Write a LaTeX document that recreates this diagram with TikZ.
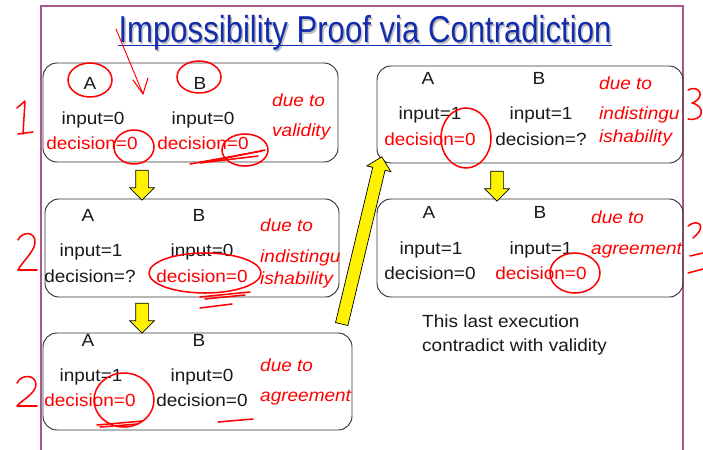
\documentclass[tikz,border=0pt]{standalone}
\usepackage{fontspec}
\setmainfont{Liberation Sans}[FakeStretch=1.08]
\newfontfamily\titlefont{Liberation Sans}[FakeStretch=0.83]
\usetikzlibrary{shapes.arrows,calc}
\definecolor{slideframe}{RGB}{168,88,138}
\definecolor{titleblue}{RGB}{18,44,172}
\definecolor{boxline}{RGB}{50,50,50}
\def\pxu{0.03cm}
\begin{document}
\begin{tikzpicture}[x=0.03cm, y=-0.03cm,
    txt/.style={inner sep=0pt, text height=0.716em, text depth=0pt, font=\fontsize{15}{18}\selectfont, text=black!90},
    note/.style={txt, text=red, font=\fontsize{15}{18}\selectfont\itshape, anchor=west},
    execbox/.style={draw=boxline, line width=0.8pt, rounded corners=0.42cm, inner sep=0pt, outer sep=0pt},
    yarrow/.style={single arrow, draw=black, fill=yellow, line width=0.6pt, inner sep=0pt, outer sep=0pt,
      text height=6*\pxu, text depth=6*\pxu, text width=0pt,
      minimum width=24*\pxu, single arrow head extend=6*\pxu, single arrow head indent=0pt},
    hand/.style={red, line width=1.3pt, line cap=round, line join=round},
    frame/.style={slideframe, line width=1.4pt}]

  \useasboundingbox (0,0) rectangle (703,450);

  % Slide frame
  \draw[frame] (41,452) -- (41,6) -- (683,6) -- (683,452);

  % Title
  \node[inner sep=0pt, text height=0.716em, text depth=0pt, text=black!25,
    font=\titlefont\fontsize{32}{36}\selectfont] (shadow) at (366.5,40) {Impossibility Proof via Contradiction};
  \node[inner sep=0pt, text height=0.716em, text depth=0pt, text=titleblue,
    font=\titlefont\fontsize{32}{36}\selectfont] (title) at (365,38.5) {Impossibility Proof via Contradiction};
  \draw[titleblue, line width=1.2pt] ([yshift=-3*\pxu]title.base west) -- ([yshift=-3*\pxu]title.base east);

  % Execution 1
  \node[execbox, minimum width=295*\pxu, minimum height=99*\pxu] (exec1) at (190.5,112.5) {};
  \node[txt] (e1a) at (90,85) {A};
  \node[txt] (e1b) at (200,85) {B};
  \node[txt] (e1ia) at (93,120) {input=0};
  \node[txt] (e1ib) at (203,120) {input=0};
  \node[txt, text=red] (e1da) at (92,145) {decision=0};
  \node[txt, text=red] (e1db) at (203,145) {decision=0};
  \node[note] (e1n1) at (272,102) {due to};
  \node[note] (e1n2) at (272,132) {validity};

  % Execution 2 (top right)
  \node[execbox, minimum width=306*\pxu, minimum height=97*\pxu] (exec2) at (530,114.5) {};
  \node[txt] (e2a) at (428,80) {A};
  \node[txt] (e2b) at (539,80) {B};
  \node[txt] (e2ia) at (430,115) {input=1};
  \node[txt] (e2ib) at (541,115) {input=1};
  \node[txt, text=red] (e2da) at (430,141) {decision=0};
  \node[txt] (e2db) at (541,141) {decision=?};
  \node[note] (e2n1) at (599,85) {due to};
  \node[note] (e2n2) at (599,115) {indistingu};
  \node[note] (e2n3) at (599,138) {ishability};

  % Execution 3 (middle left)
  \node[execbox, minimum width=294*\pxu, minimum height=98*\pxu] (exec3) at (192,248) {};
  \node[txt] (e3a) at (88,217) {A};
  \node[txt] (e3b) at (199,217) {B};
  \node[txt] (e3ia) at (91,252) {input=1};
  \node[txt] (e3ib) at (202,252) {input=0};
  \node[txt] (e3da) at (90,278) {decision=?};
  \node[txt, text=red] (e3db) at (202,278) {decision=0};
  \node[note] (e3n1) at (260,227) {due to};
  \node[note] (e3n2) at (260,258) {indistingu};
  \node[note] (e3n3) at (260,280) {ishability};

  % Execution 4 (middle right)
  \node[execbox, minimum width=306*\pxu, minimum height=98*\pxu] (exec4) at (530,248) {};
  \node[txt] (e4a) at (429,214) {A};
  \node[txt] (e4b) at (540,214) {B};
  \node[txt] (e4ia) at (431,250) {input=1};
  \node[txt] (e4ib) at (541,250) {input=1};
  \node[txt] (e4da) at (430,275) {decision=0};
  \node[txt, text=red] (e4db) at (541,275) {decision=0};
  \node[note] (e4n1) at (591,219) {due to};
  \node[note] (e4n2) at (591,250) {agreement};

  % Execution 5 (bottom left)
  \node[execbox, minimum width=309*\pxu, minimum height=97*\pxu] (exec5) at (197.5,381.5) {};
  \node[txt] (e5a) at (88,342) {A};
  \node[txt] (e5b) at (199,342) {B};
  \node[txt] (e5ia) at (91,377) {input=1};
  \node[txt] (e5ib) at (202,377) {input=0};
  \node[txt, text=red] (e5da) at (90,402) {decision=0};
  \node[txt] (e5db) at (202,402) {decision=0};
  \node[note] (e5n1) at (260,367) {due to};
  \node[note] (e5n2) at (260,397) {agreement};

  % Conclusion
  \node[txt, anchor=west] (concl1) at (422,323) {This last execution};
  \node[txt, anchor=west] (concl2) at (422,347) {contradict with validity};

  % Block arrows
  \coordinate (a1s) at (142,167); \coordinate (a1e) at (142,197);
  \coordinate (a2s) at (142,300); \coordinate (a2e) at (142,330);
  \coordinate (a3s) at (497,168); \coordinate (a3e) at (497,198);
  \coordinate (a4s) at (341,327); \coordinate (a4e) at (381,160);
  \path (a1s) -- (a1e) node[yarrow, midway, sloped, allow upside down, minimum height=30*\pxu] (ar1) {};
  \path (a2s) -- (a2e) node[yarrow, midway, sloped, allow upside down, minimum height=30*\pxu] (ar2) {};
  \path (a3s) -- (a3e) node[yarrow, midway, sloped, allow upside down, minimum height=30*\pxu] (ar3) {};
  \path (a4s) -- (a4e) node[yarrow, midway, sloped, allow upside down, minimum height=172*\pxu] (ar4) {};

  % Handwriting
  \draw[hand, line width=0.8pt] (116,29) -- (143,94);
  \draw[hand, line width=0.9pt] (133,80) -- (143,94) -- (148,78);
  \draw[hand] (90,80) ellipse (22 and 17);
  \draw[hand] (199,77) ellipse (22 and 16);
  \draw[hand] (134,147) ellipse (20 and 17);
  \draw[hand] (245,150) ellipse (23 and 16);
  \draw[hand] (190,164) -- (262,151);
  \draw[hand] (200,163) -- (258,156);
  \draw[hand] (212,161) -- (265,150);
  \draw[hand] (17,108) -- (25,101) -- (23,134);
  \draw[hand] (18,134) -- (33,132);

  \draw[hand] (466,138) ellipse (25 and 30);
  \draw[hand] (688,90) .. controls (700,84) and (706,98) .. (692,103)
    .. controls (706,106) and (704,122) .. (688,119);

  \draw[hand] (205,273) ellipse (56 and 20);
  \draw[hand] (200,297) -- (250,292);
  \draw[hand] (205,299) -- (245,295);
  \draw[hand] (200,308) -- (232,304);
  \draw[hand] (18,240) .. controls (22,231) and (36,231) .. (35,243)
    .. controls (34,252) and (22,262) .. (18,270) -- (37,270);

  \draw[hand] (575,273) ellipse (25 and 20);
  \draw[hand] (688,226) .. controls (698,218) and (708,226) .. (693,238);
  \draw[hand] (690,256) -- (703,253);
  \draw[hand] (688,273) -- (703,269);

  \draw[hand] (124,400) ellipse (30 and 27);
  \draw[hand] (97,425) -- (143,421);
  \draw[hand] (100,427) -- (138,424);
  \draw[hand] (218,422) -- (253,419);
  \draw[hand] (17,383) .. controls (21,374) and (36,374) .. (36,385)
    .. controls (35,394) and (22,400) .. (17,406) -- (37,406);

\end{tikzpicture}
\end{document}
